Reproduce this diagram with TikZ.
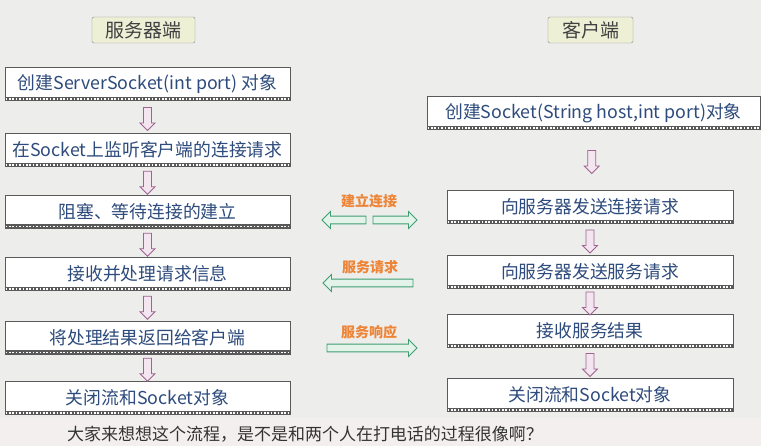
\documentclass[tikz,border=0pt]{standalone}
\usepackage{fontspec}
\setmainfont{Noto Sans CJK SC}
\usetikzlibrary{positioning,shapes.arrows}
\definecolor{bgcol}{HTML}{EDEDEC}
\definecolor{bgpink}{HTML}{F4EFEF}
\definecolor{txtblue}{HTML}{2D4B7C}
\definecolor{boxline}{HTML}{5A5A5A}
\definecolor{headfill}{HTML}{EEF0D6}
\definecolor{downline}{HTML}{A0628F}
\definecolor{downfill}{HTML}{F3E6F0}
\definecolor{greenline}{HTML}{3E9E72}
\definecolor{greenfill}{HTML}{E4F3EA}
\definecolor{lblorange}{HTML}{EE8436}

\begin{document}
\begin{tikzpicture}[x=1pt,y=-1pt,
    stepbox/.style={draw=boxline, fill=white, line width=0.8pt, inner sep=0pt,
        minimum height=33pt, text=txtblue, font=\fontsize{17.8}{20}\selectfont},
    srv/.style={stepbox, minimum width=285pt},
    cli/.style={stepbox, minimum width=286pt},
    head/.style={draw=boxline!70, fill=headfill, rounded corners=2pt, minimum height=26pt,
        inner sep=0pt, text=black!75, font=\fontsize{19}{21}\selectfont},
    darrow/.style={single arrow, draw=downline, fill=downfill, line width=0.8pt,
        shape border rotate=270, minimum height=23pt, minimum width=15pt,
        single arrow head extend=3.5pt, inner sep=3.5pt},
    garrow/.style={single arrow, draw=greenline, fill=greenfill, line width=0.9pt,
        minimum width=17pt, single arrow head extend=4pt, inner sep=3pt},
    lbl/.style={text=lblorange, font=\bfseries\fontsize{14}{16}\selectfont}
]

\useasboundingbox (0,0) rectangle (761,446);
\fill[bgcol] (0,0) rectangle (761,446);
\fill[bgpink] (0,418) rectangle (761,446);

% headers
\node[head, minimum width=103pt] (hs) at (143.5,30) {服务器端};
\node[head, minimum width=85pt] (hc) at (590.5,30) {客户端};

% server side
\node[srv] (s1) at (147.5,84) {创建ServerSocket(int port) 对象};
\node[srv] (s2) at (147.5,150) {在Socket上监听客户端的连接请求};
\node[srv] (s3) at (147.5,211.5) {阻塞、等待连接的建立};
\node[srv] (s4) at (147.5,274) {接收并处理请求信息};
\node[srv] (s5) at (147.5,337.5) {将处理结果返回给客户端};
\node[srv] (s6) at (147.5,398) {关闭流和Socket对象};

% client side
\node[cli, minimum width=333pt] (c1) at (593.5,113) {创建Socket(String host,int port)对象};
\node[cli] (c2) at (590,207) {向服务器发送连接请求};
\node[cli] (c3) at (590,272) {向服务器发送服务请求};
\node[cli] (c4) at (590,331) {接收服务结果};
\node[cli] (c5) at (590,395) {关闭流和Socket对象};

% hatched bottom edges
\foreach \b in {s1,s2,s3,s4,s5,s6,c1,c2,c3,c4,c5} {
    \fill[boxline] ([yshift=4pt]\b.south west) rectangle (\b.south east);
    \draw[white, line width=1.3pt, dash pattern=on 1.6pt off 1.8pt]
        ([yshift=2pt,xshift=1pt]\b.south west) -- ([yshift=2pt,xshift=-1pt]\b.south east);
}

% step arrows
\foreach \a/\b in {s1/s2,s2/s3,s3/s4,s4/s5,s5/s6,c1/c2,c2/c3,c3/c4,c4/c5}
    \path (\a) -- node[darrow] {} (\b);

% messages
\node[lbl] (l1) at (369,201) {建立连接};
\node[garrow, shape border rotate=180, minimum height=44pt] (a1l) at (346,220) {};
\node[garrow, minimum height=44pt] (a1r) at (393,220) {};

\node[lbl] (l2) at (370,267) {服务请求};
\node[garrow, shape border rotate=180, minimum height=90pt] (a2) at (370,283) {};

\node[lbl] (l3) at (369,332) {服务响应};
\node[garrow, minimum height=90pt] (a3) at (370,348) {};

% caption
\node[text=black!80, font=\fontsize{17}{19}\selectfont] (cap) at (305,434)
    {大家来想想这个流程，是不是和两个人在打电话的过程很像啊？};

\end{tikzpicture}
\end{document}
